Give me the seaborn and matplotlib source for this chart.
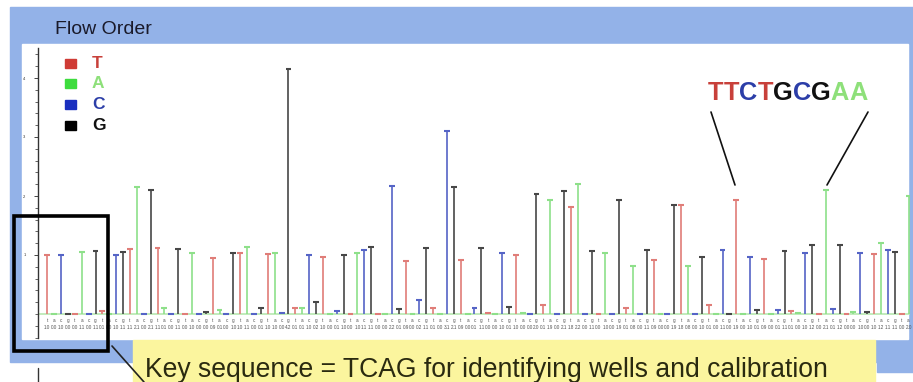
import matplotlib
matplotlib.use('Agg')
import matplotlib.pyplot as plt
import seaborn as sns
import pandas as pd

# flow order cycles T A C G
flow_order = ['T', 'A', 'C', 'G']
signal = [1.0, 0.0, 1.0, 0.0, 0.0, 1.05, 0.0, 1.07, 0.05, 0.0,
          1.0, 1.05, 1.1, 2.15, 0.0, 2.1, 1.12, 0.1, 0.0, 1.1,
          0.0, 1.04, 0.0, 0.03, 0.95, 0.07, 0.0, 1.04, 1.04, 1.13,
          0.0, 0.1, 1.02, 1.04, 0.02, 4.15, 0.1, 0.1, 1.0, 0.2,
          0.97, 0.0, 0.05, 1.0, 0.0, 1.03, 1.08, 1.14, 0.0, 0.0,
          2.17, 0.08, 0.89, 0.0, 0.23, 1.12, 0.1, 0.0, 3.1, 2.15,
          0.91, 0.0, 0.1, 1.12, 0.02, 0.0, 1.03, 0.12, 1.0, 0.02,
          0.0, 2.04, 0.15, 1.94, 0.0, 2.08, 1.82, 2.2, 0.0, 1.07,
          0.0, 1.04, 0.0, 1.94, 0.1, 0.81, 0.0, 1.08, 0.91, 0.0,
          0.0, 1.85, 1.84, 0.81, 0.0, 0.96, 0.15, 0.0, 1.08, 0.0,
          1.94, 0.0, 0.97, 0.07, 0.94, 0.0, 0.07, 1.07, 0.05, 0.02,
          1.03, 1.17, 0.0, 2.1, 0.08, 1.17, 0.0, 0.03, 1.04, 0.04,
          1.02, 1.2, 1.08, 1.05, 0.0, 2.0]
bases = [flow_order[i % 4] for i in range(len(signal))]
bar_colors = {'T': '#e07d78', 'A': '#8ee08a', 'C': '#5564c6', 'G': '#474747'}
key_colors = {'T': '#cf3b35', 'A': '#3ddc3d', 'C': '#1a2fbf', 'G': '#000000'}
text_colors = {'T': '#c8403a', 'A': '#8ee07a', 'C': '#2c3ea8', 'G': '#111111'}
read_text = 'TTCTGCGAA'

df = pd.DataFrame({'flow': range(len(signal)), 'signal': signal, 'base': bases})

sns.set_style('white')
plt.rcParams['font.family'] = ['Liberation Sans', 'DejaVu Sans']

W, H = 913, 382
fig = plt.figure(figsize=(W / 100, H / 100), dpi=100)

def px_axes(zorder):
    a = fig.add_axes([0, 0, 1, 1], zorder=zorder)
    a.set_xlim(0, W)
    a.set_ylim(H, 0)
    a.axis('off')
    a.patch.set_alpha(0)
    return a

bg = px_axes(0)
bg.add_patch(plt.Rectangle((10, 7), W - 10, 355, color='#93b2e8'))
bg.add_patch(plt.Rectangle((877, 362), W - 877, 10, color='#93b2e8'))
bg.add_patch(plt.Rectangle((22, 44), 886, 295, color='white'))
bg.text(55, 29, 'Flow Order', fontsize=14, color='#1a1a2a', va='center')
bg.plot([38, 38], [368, 382], color='#333333', lw=1)

# main flowgram axes, placed so pixels match
x0, x1 = 38, 910
ytop, ybot = 48, 338
ax = fig.add_axes([x0 / W, (H - ybot) / H, (x1 - x0) / W, (ybot - ytop) / H], zorder=1)
ax.patch.set_alpha(0)
unit = 59.0
base_px = 314
px_flow0, dx = 47.3, 6.89
ax.set_xlim((x0 - px_flow0) / dx, (x1 - px_flow0) / dx)
ax.set_ylim(-(ybot - base_px) / unit, (base_px - ytop) / unit)

ax.axhline(0, color='#b8e8b0', lw=1.2, zorder=1)
for b in flow_order:
    sub = df[df['base'] == b]
    ax.vlines(sub['flow'], 0, sub['signal'], color=bar_colors[b], lw=1.2, zorder=2)
sns.scatterplot(data=df, x='flow', y='signal', hue='base', palette=bar_colors,
                marker='_', s=18, linewidth=1.5, legend=False, ax=ax, zorder=3)

for s in ['top', 'right', 'bottom']:
    ax.spines[s].set_visible(False)
ax.spines['left'].set_color('#333333')
ax.spines['left'].set_linewidth(1)
ax.set_yticks([1, 2, 3, 4])
ax.set_yticklabels(['1', '2', '3', '4'], fontsize=3, color='#333333')
ax.set_yticks([i * 0.2 for i in range(-2, 23)], minor=True)
ax.tick_params(axis='y', which='major', left=True, length=3, width=0.6, pad=6)
ax.tick_params(axis='y', which='minor', left=True, length=2, width=0.5)
ax.set_xticks(df['flow'])
ax.set_xticklabels([f'{b.lower()}\n{v:.1f}' for b, v in zip(bases, signal)],
                   fontsize=3.3, color='#505050', linespacing=1.5)
ax.tick_params(axis='x', length=0, pad=-14.5)
ax.set_xlabel('')
ax.set_ylabel('')

fg = px_axes(2)
# legend
for i, b in enumerate(flow_order):
    yy = 63 + i * 20.7
    fg.add_patch(plt.Rectangle((65, yy - 4.5), 11, 9, color=key_colors[b]))
    fg.text(92, yy, b, fontsize=12.5, fontweight='bold', color=text_colors[b], va='center')

# read annotation, letters placed one after another
fig.canvas.draw()
renderer = fig.canvas.get_renderer()
xx = 708
for ch in read_text:
    t = fg.text(xx, 93, ch, fontsize=18.3, fontweight='bold', color=text_colors[ch], va='center')
    bb = t.get_window_extent(renderer)
    xx += bb.width * W / fig.bbox.width
fg.plot([711, 735], [112, 185], color='#111111', lw=1.2)
fg.plot([868, 827], [112, 185], color='#111111', lw=1.2)

# key sequence box and callout
fg.add_patch(plt.Rectangle((14, 216), 94, 135, fill=False, ec='black', lw=2.6))
fg.add_patch(plt.Rectangle((133, 340), 742, 45, color='#fbf59e'))
fg.plot([112, 144], [346, 382], color='#222222', lw=1.2)
fg.text(145, 377, 'Key sequence = TCAG for identifying wells and calibration',
        fontsize=19.1, color='#2a2a10', va='baseline')

fig.savefig('out.png', dpi=100)
